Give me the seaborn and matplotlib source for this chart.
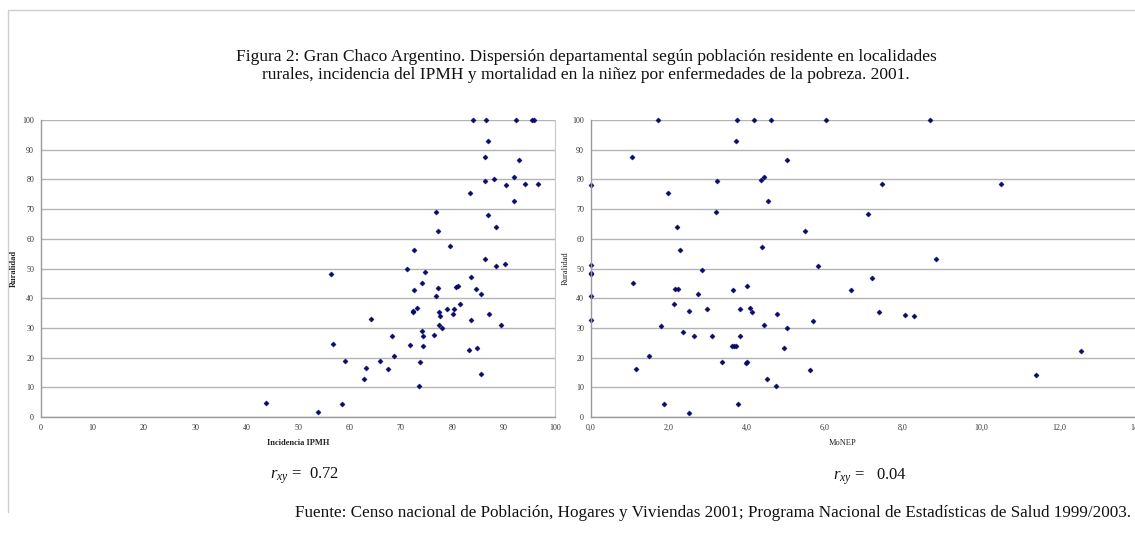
import matplotlib
matplotlib.use("Agg")
import matplotlib.pyplot as plt
import seaborn as sns
import pandas as pd
from matplotlib.lines import Line2D
from matplotlib.ticker import FuncFormatter

# Izquierda: incidencia IPMH vs ruralidad
ipmh = [84.0, 86.6, 92.5, 95.5, 95.9, 86.9, 86.4, 93.0, 86.3, 88.2, 92.1, 90.5,
        94.2, 96.7, 83.5, 92.1, 76.8, 87.0, 77.3, 88.5, 79.5, 72.5, 86.3, 88.5,
        90.2, 56.4, 71.2, 74.7, 74.1, 77.2, 72.5, 80.7, 81.1, 83.7, 84.7, 85.7,
        76.8, 81.5, 73.1, 72.4, 72.4, 77.4, 77.6, 78.9, 80.4, 80.1, 87.1, 64.2,
        83.7, 77.4, 78.0, 89.4, 74.1, 74.3, 68.2, 76.4, 56.9, 71.8, 74.4, 83.2,
        84.8, 68.7, 59.1, 65.9, 73.7, 63.3, 67.5, 62.9, 85.7, 73.5, 43.8, 58.6,
        53.8]
rural_izq = [100, 100, 100, 100, 100, 92.8, 87.4, 86.5, 79.6, 80.0, 80.8, 78.0,
             78.3, 78.3, 75.3, 72.6, 69.1, 68.1, 62.5, 64.0, 57.5, 56.1, 53.3, 50.7,
             51.4, 48.1, 49.7, 48.7, 45.1, 43.3, 42.8, 43.7, 44.1, 47.0, 43.0, 41.4,
             40.6, 38.2, 36.7, 35.7, 35.2, 35.4, 34.1, 36.5, 36.5, 34.6, 34.8, 32.9,
             32.7, 31.1, 30.1, 31.0, 28.8, 27.4, 27.4, 27.6, 24.6, 24.2, 24.0, 22.6,
             23.3, 20.5, 18.7, 18.7, 18.5, 16.4, 16.0, 12.8, 14.6, 10.5, 4.6, 4.4,
             1.6]

# Derecha: MoNEP vs ruralidad
monep = [1.71, 3.74, 4.17, 4.62, 6.02, 3.73, 1.06, 5.03, 0.0, 3.24, 4.35, 4.43,
         1.98, 4.54, 3.21, 2.21, 5.48, 4.38, 2.27, 0.0, 0.0, 0.0, 2.85, 5.82,
         1.07, 3.99, 2.16, 2.22, 3.63, 6.66, 2.74, 0.0, 2.14, 2.97, 3.81, 4.07,
         4.12, 2.51, 4.77, 0.0, 5.69, 1.79, 4.44, 5.02, 2.36, 2.65, 3.09, 3.82,
         3.62, 3.67, 3.71, 4.95, 1.48, 3.35, 3.97, 4.01, 1.16, 5.62, 4.51, 4.75,
         1.86, 3.78, 2.50, 8.70, 7.46, 10.52, 7.09, 8.84, 7.21, 7.38, 8.04, 8.27,
         12.57, 11.40]
rural_der = [100, 100, 100, 100, 100, 92.8, 87.4, 86.5, 78.0, 79.6, 79.9, 80.8,
             75.4, 72.6, 69.1, 63.9, 62.5, 57.4, 56.1, 51.2, 48.5, 48.0, 49.6, 50.7,
             45.0, 44.1, 43.2, 43.2, 42.6, 42.9, 41.4, 40.6, 38.1, 36.4, 36.4, 36.7,
             35.3, 35.8, 34.7, 32.7, 32.4, 30.8, 30.9, 30.0, 28.7, 27.2, 27.2, 27.4,
             24.0, 24.0, 23.8, 23.2, 20.5, 18.6, 18.3, 18.6, 16.1, 15.9, 12.7, 10.4,
             4.5, 4.3, 1.4, 100, 78.4, 78.5, 68.2, 53.3, 46.9, 35.2, 34.5, 33.9,
             22.3, 14.3]

df_izq = pd.DataFrame({"ipmh": ipmh, "rural": rural_izq})
df_der = pd.DataFrame({"monep": monep, "rural": rural_der})

sns.set_style("white")
plt.rcParams["font.family"] = ["Liberation Serif", "DejaVu Serif"]
plt.rcParams["mathtext.fontset"] = "custom"
plt.rcParams["mathtext.it"] = "Liberation Serif:italic"
plt.rcParams["mathtext.rm"] = "Liberation Serif"

W, H = 1135, 548
fig = plt.figure(figsize=(W / 100, H / 100), dpi=100)
fig.patch.set_facecolor("white")

def fx(px):
    return px / W

def fy(py):
    return 1 - py / H

ax1 = fig.add_axes([fx(41), fy(417), fx(555 - 41), fy(120) - fy(417)])
ax2 = fig.add_axes([fx(591), fy(417), fx(1137 - 591), fy(120) - fy(417)])

navy = "#0a0a6e"
grid_col = "#b4b4b4"
spine_col = "#9a9a9a"

sns.scatterplot(data=df_izq, x="ipmh", y="rural", ax=ax1, marker="D", s=7,
                color=navy, edgecolor=navy, linewidth=0.3, clip_on=False)
sns.scatterplot(data=df_der, x="monep", y="rural", ax=ax2, marker="D", s=7,
                color=navy, edgecolor=navy, linewidth=0.3, clip_on=False)

ax1.set_xlim(0, 100)
ax1.set_xticks(range(0, 101, 10))
ax2.set_xlim(0, 14)
ax2.set_xticks(range(0, 15, 2))
ax2.xaxis.set_major_formatter(FuncFormatter(lambda v, p: f"{v:.1f}".replace(".", ",")))

for ax in (ax1, ax2):
    ax.set_ylim(0, 100)
    ax.set_yticks(range(0, 101, 10))
    ax.grid(axis="y", color=grid_col, linewidth=1.0)
    ax.grid(axis="x", visible=False)
    ax.set_axisbelow(True)
    ax.spines["top"].set_visible(False)
    for s in ("left", "bottom"):
        ax.spines[s].set_color(spine_col)
        ax.spines[s].set_linewidth(1.0)
    ax.tick_params(axis="both", direction="out", length=3, width=0.8, colors=spine_col,
                   labelcolor="#333333", labelsize=5.8, pad=2)
    ax.set_xlabel("")
    ax.set_ylabel("")
    ax.set_facecolor("white")

ax1.spines["right"].set_color("#c8c8c8")
ax1.spines["right"].set_linewidth(0.8)
ax2.spines["right"].set_visible(False)

# etiquetas de ejes
fig.text(fx(298), fy(443), "Incidencia IPMH", ha="center", va="center",
         fontsize=6, fontweight="bold", color="#222222")
fig.text(fx(843), fy(443), "MoNEP", ha="center", va="center",
         fontsize=6, color="#222222")
fig.text(fx(14), fy(268), "Ruralidad", ha="center", va="center", rotation=90,
         fontsize=6, fontweight="bold", color="#222222")
fig.text(fx(566), fy(268), "Ruralidad", ha="center", va="center", rotation=90,
         fontsize=6, color="#222222")

# coeficientes
fig.text(fx(270), fy(476), r"$r_{xy}$ =  0.72", ha="left", va="center",
         fontsize=12, color="#111111")
fig.text(fx(833), fy(477), r"$r_{xy}$ =   0.04", ha="left", va="center",
         fontsize=12, color="#111111")

# titulo y fuente
fig.text(fx(586), fy(57), "Figura 2: Gran Chaco Argentino. Dispersión departamental según "
         "población residente en localidades", ha="center", va="center",
         fontsize=12.5, color="#111111")
fig.text(fx(586), fy(75), "rurales, incidencia del IPMH y mortalidad en la niñez por "
         "enfermedades de la pobreza. 2001.", ha="center", va="center",
         fontsize=12.5, color="#111111")
fig.text(fx(1131), fy(513), "Fuente: Censo nacional de Población, Hogares y Viviendas 2001; "
         "Programa Nacional de Estadísticas de Salud 1999/2003.", ha="right",
         va="center", fontsize=12.3, color="#111111")

# marco
fig.add_artist(Line2D([fx(8), fx(8), fx(1135)], [fy(512), fy(10), fy(10)],
                      color="#cfcfcf", linewidth=1.0))

fig.savefig("out.png", dpi=100, facecolor="white")
